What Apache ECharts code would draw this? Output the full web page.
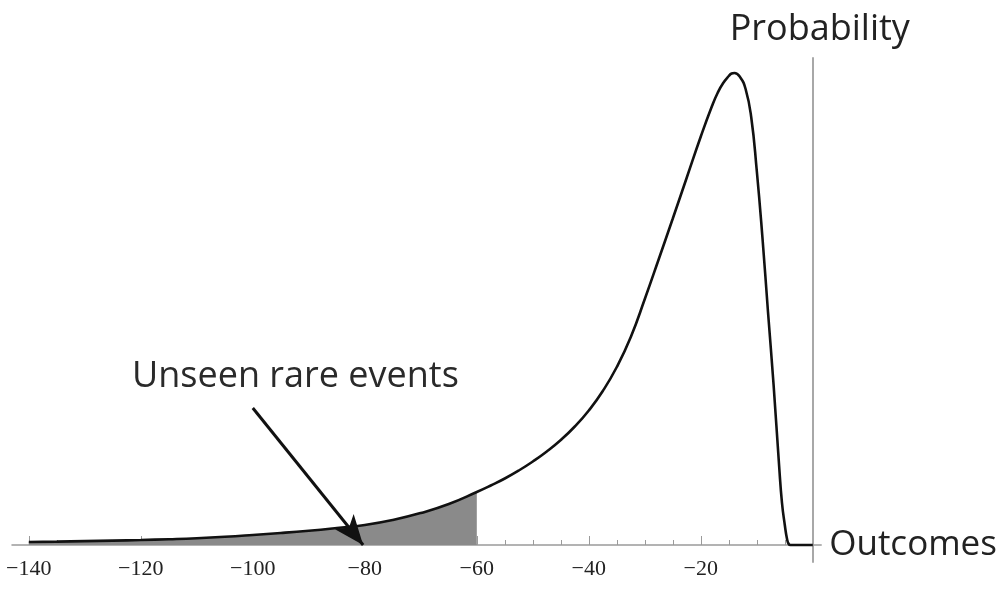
<!DOCTYPE html>
<html>
<head>
<meta charset="utf-8">
<script src="https://cdn.jsdelivr.net/npm/echarts@6/dist/echarts.min.js"></script>
<style>
html,body{margin:0;padding:0;background:#fff;}
#chart{width:1004px;height:589px;}
</style>
</head>
<body>
<div id="chart"></div>
<script>
// Outcome values (x) and curve height (relative probability density)
const outcomes = [-140,-135,-130,-125,-120,-115,-110,-105,-100,-95,-90,-85,-80,-75,-70,-65,-60,-57.5,-55,-52.5,-50,-47.5,-45,-42.5,-40,-37.5,-35,-32.5,-30,-27.5,-25,-22.5,-20,-18,-17,-16,-15,-14.5,-14,-13,-12,-11,-10,-9,-8,-7,-6,-5.5,-5,-4.6,-4.3,-4,0];
const probability = [3,3.4,3.9,4.4,5,5.8,6.8,8.2,10,12,14.3,17,20,25,32,41,53,59.5,66.5,74.5,83.5,93.5,105,118.5,134.5,154,178,208,246,286,326.5,367.5,408.5,439,452,462,469,471.5,472,468,456,428,374,308,233,160,78,42,20,6,1,0,0];
// Shaded tail limit
const tailLimit = -60;
// Tick labels and tick marks
const tickLabels = [-140,-120,-100,-80,-60,-40,-20];
const minorTicks = [-140,-135,-130,-125,-120,-115,-110,-105,-100,-95,-90,-85,-80,-75,-70,-65,-60,-55,-50,-45,-40,-35,-30,-25,-20,-15,-10,-5];
// Annotation arrow (from, to) in data coordinates
const arrowFrom = [-100, 137];
const arrowTo = [-80.3, 0];
const annotationText = 'Unseen rare events';

const curve = outcomes.map((x, i) => [x, probability[i]]);
const tail = curve.filter(p => p[0] <= tailLimit);

const X_MIN = -143, X_MAX = 1.5, Y_MIN = -17, Y_MAX = 487;
const gridBox = {left: 12, width: 809.2, top: 58, height: 504, outerBoundsMode: 'none', containLabel: false};

const chart = echarts.init(document.getElementById('chart'), null, {renderer: 'canvas'});
chart.setOption({
  animation: false,
  backgroundColor: '#fff',
  grid: [Object.assign({}, gridBox), Object.assign({}, gridBox)],
  xAxis: [{
    type: 'value', gridIndex: 0, min: X_MIN, max: X_MAX,
    name: 'Outcomes', nameLocation: 'end', nameGap: 8,
    nameTextStyle: {fontFamily: 'Open Sans', fontSize: 35, color: '#222', verticalAlign: 'middle', padding: [0,0,4,0]},
    axisLine: {show: true, onZero: true, lineStyle: {color: '#9a9a9a', width: 1.5}},
    axisTick: {show: true, inside: true, length: 5, customValues: minorTicks, lineStyle: {color: '#9a9a9a', width: 1}},
    axisLabel: {show: true, customValues: tickLabels, margin: -4, fontFamily: 'Liberation Serif', fontSize: 22, color: '#222',
      formatter: v => (v < 0 ? '\u2212' + Math.abs(v) : String(v))},
    splitLine: {show: false}
  }, {
    type: 'value', gridIndex: 1, min: X_MIN, max: X_MAX,
    axisLine: {show: false, onZero: true},
    axisTick: {show: true, inside: true, length: 9, customValues: tickLabels, lineStyle: {color: '#9a9a9a', width: 1}},
    axisLabel: {show: false},
    splitLine: {show: false}
  }],
  yAxis: [{
    type: 'value', gridIndex: 0, min: Y_MIN, max: Y_MAX,
    name: 'Probability', nameLocation: 'end', nameGap: 10,
    nameTextStyle: {fontFamily: 'Open Sans', fontSize: 36, color: '#222', align: 'center', padding: [0,0,0,14]},
    axisLine: {show: true, onZero: true, lineStyle: {color: '#a8a8a8', width: 2}},
    axisTick: {show: false}, axisLabel: {show: false}, splitLine: {show: false}
  }, {
    type: 'value', gridIndex: 1, min: Y_MIN, max: Y_MAX,
    axisLine: {show: false}, axisTick: {show: false}, axisLabel: {show: false}, splitLine: {show: false}
  }],
  series: [{
    type: 'line', xAxisIndex: 0, yAxisIndex: 0, data: tail, smooth: 0.5,
    symbol: 'none', lineStyle: {width: 0, opacity: 0},
    areaStyle: {color: '#8a8a8a', opacity: 1}, z: 2
  }, {
    type: 'line', xAxisIndex: 0, yAxisIndex: 0, data: curve, smooth: 0.5,
    symbol: 'none', lineStyle: {color: '#111', width: 2.6}, z: 3,
    markLine: {
      silent: true, animation: false, z: 5,
      symbol: ['none', 'arrow'],
      label: {show: false},
      lineStyle: {color: '#111', width: 3, type: 'solid'},
      data: [[
        {coord: arrowFrom, symbol: 'none'},
        {coord: arrowTo, symbol: 'arrow', symbolSize: [18, 30]}
      ]]
    }
  }],
  graphic: [{
    type: 'text', left: 132, top: 359, z: 10,
    style: {text: annotationText, font: '36px "Open Sans"', fill: '#2a2a2a'}
  }]
});
</script>
</body>
</html>
